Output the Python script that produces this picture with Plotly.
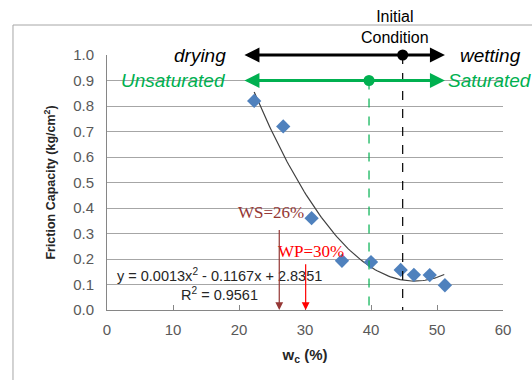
import numpy as np
import plotly.graph_objects as go

# Data
wc = [22.3, 26.7, 31.0, 35.6, 40.0, 44.5, 46.5, 48.9, 51.2]
friction = [0.82, 0.72, 0.36, 0.193, 0.188, 0.157, 0.138, 0.137, 0.097]
x_ticks = [0, 10, 20, 30, 40, 50, 60]
y_ticks = [0.0, 0.1, 0.2, 0.3, 0.4, 0.5, 0.6, 0.7, 0.8, 0.9, 1.0]
ws_value = 26.1
wp_value = 30.1
initial_wc = 44.8
saturated_wc = 39.7
equation_text = "y = 0.0013x<sup>2</sup> - 0.1167x + 2.8351"
r2_text = "R<sup>2</sup> = 0.9561"

coef = np.polyfit(wc, friction, 2)
xfit = np.linspace(22.3, 51.1, 100)
yfit = np.polyval(coef, xfit)

fig = go.Figure()
fig.add_trace(go.Scatter(x=xfit, y=yfit, mode="lines",
                         line=dict(color="#404040", width=1.2), hoverinfo="skip"))
fig.add_trace(go.Scatter(x=wc, y=friction, mode="markers",
                         marker=dict(symbol="diamond", size=11, color="#4F81BD")))

# dashed vertical lines
fig.add_trace(go.Scatter(x=[initial_wc, initial_wc], y=[1.0, 0.0], mode="lines",
                         line=dict(color="black", width=1.2, dash="dash")))
fig.add_trace(go.Scatter(x=[saturated_wc, saturated_wc], y=[0.9, 0.0], mode="lines",
                         line=dict(color="#00B050", width=1.2, dash="dash")))

ann = []
# double-headed arrows
for yv, col in [(1.0, "black"), (0.9, "#00B050")]:
    ann.append(dict(x=51.2, y=yv, ax=20.6, ay=yv, xref="x", yref="y", axref="x", ayref="y",
                    showarrow=True, arrowhead=2, startarrowhead=2, arrowside="end+start",
                    arrowsize=1.0, startarrowsize=1.0, arrowwidth=3, arrowcolor=col, text=""))
# dots
fig.add_trace(go.Scatter(x=[initial_wc], y=[1.0], mode="markers", cliponaxis=False,
                         marker=dict(color="black", size=11)))
fig.add_trace(go.Scatter(x=[saturated_wc], y=[0.9], mode="markers", cliponaxis=False,
                         marker=dict(color="#00B050", size=11)))

ital = dict(family="Liberation Sans, Arial", size=19, style="italic")
ann += [
    dict(x=18.4, y=1.0, text="drying", xanchor="right", showarrow=False,
         font=dict(ital, color="black")),
    dict(x=18.4, y=0.9, text="Unsaturated", xanchor="right", showarrow=False,
         font=dict(ital, color="#00B050")),
    dict(x=53.2, y=1.0, text="wetting", xanchor="left", showarrow=False,
         font=dict(ital, color="black")),
    dict(x=51.3, y=0.9, text="Saturated", xanchor="left", showarrow=False,
         font=dict(ital, color="#00B050")),
    dict(x=43.6, xref="x", y=1.028, yref="paper", text="Initial<br>Condition", yanchor="bottom",
         showarrow=False,
         font=dict(family="Liberation Sans, Arial", size=16, color="black")),
    dict(x=17.1, y=0.137, text=equation_text, showarrow=False,
         font=dict(family="Liberation Sans, Arial", size=14.5, color="#262626")),
    dict(x=17.1, y=0.063, text=r2_text, showarrow=False,
         font=dict(family="Liberation Sans, Arial", size=14.5, color="#262626")),
    dict(x=24.8, y=0.384, text="WS=26%", showarrow=False,
         font=dict(family="Liberation Serif, Times New Roman", size=17, color="#953735")),
    dict(x=30.9, y=0.231, text="WP=30%", showarrow=False,
         font=dict(family="Liberation Serif, Times New Roman", size=17, color="#FF0000")),
    dict(x=ws_value, y=0.0, ax=ws_value, ay=0.32, xref="x", yref="y", axref="x", ayref="y",
         showarrow=True, arrowhead=2, arrowsize=1.3, arrowwidth=1.2, arrowcolor="#953735", text=""),
    dict(x=wp_value, y=0.0, ax=wp_value, ay=0.185, xref="x", yref="y", axref="x", ayref="y",
         showarrow=True, arrowhead=2, arrowsize=1.3, arrowwidth=1.2, arrowcolor="#FF0000", text=""),
]

fig.update_layout(
    width=532, height=380, showlegend=False,
    margin=dict(l=107, r=29, t=55, b=70),
    paper_bgcolor="white", plot_bgcolor="white",
    annotations=ann,
    shapes=[dict(type="rect", xref="paper", yref="paper", x0=-0.2374, x1=1.2, y0=-0.31,
                 y1=1.1176, line=dict(color="#A6A6A6", width=1), layer="below")],
    font=dict(family="Liberation Sans, Arial", color="#595959", size=13),
)
fig.update_xaxes(range=[0, 60], tickvals=x_ticks, showgrid=False, zeroline=False,
                 showline=True, linecolor="#868686", ticks="inside", ticklen=5,
                 tickcolor="#868686", tickfont=dict(size=15), ticklabelstandoff=6,
                 title=dict(text="<b>w<sub>c</sub> (%)</b>", font=dict(size=15, color="#262626"),
                            standoff=12))
fig.update_yaxes(range=[0, 1.0], tickvals=y_ticks, tickformat=".1f", showgrid=True,
                 gridcolor="#A6A6A6", zeroline=False, showline=True, linecolor="#868686",
                 tickfont=dict(size=15), ticklabelstandoff=9,
                 title=dict(text="<b>Friction Capacity (kg/cm<sup>2</sup>)</b>",
                            font=dict(size=12.5, color="#262626"), standoff=14))

fig.write_html("out.html")
